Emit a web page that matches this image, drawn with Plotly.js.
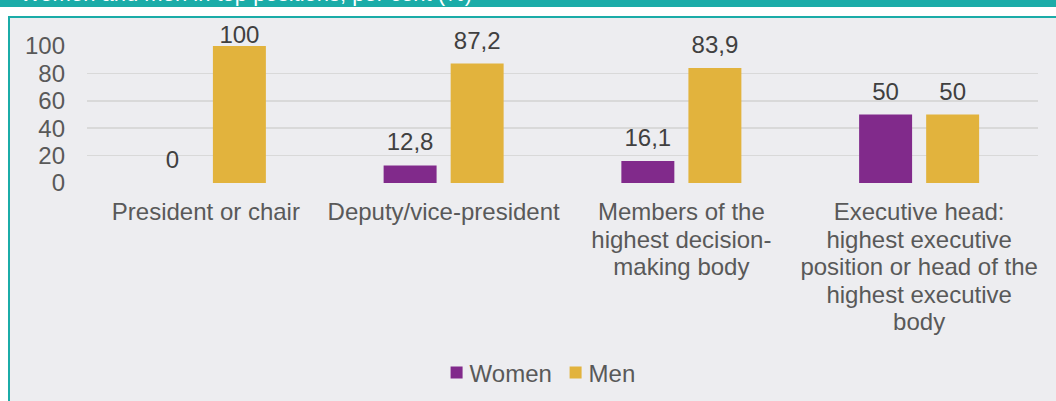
<!DOCTYPE html>
<html>
<head>
<meta charset="utf-8">
<script src="https://cdn.plot.ly/plotly-3.0.1.min.js"></script>
<style>
  html, body { margin: 0; padding: 0; background: #ffffff; }
  #wrap { position: relative; width: 1056px; height: 401px; overflow: hidden; background: #ffffff; }
  #band { position: absolute; left: 0; top: 0; width: 1056px; height: 7px; background: #1BACA8; overflow: hidden; }
  #band span { position: absolute; left: 20px; top: -17px; font-family: 'Liberation Sans', Arial, sans-serif; font-size: 22px; line-height: 21px; color: #ffffff; white-space: nowrap; }
  #frame { position: absolute; left: 8px; top: 16px; width: 1048px; height: 385px; background: #EDEDF0; border-top: 2px solid #1BACA8; border-left: 2px solid #1BACA8; box-sizing: border-box; }
  #chart { position: absolute; left: 0; top: 0; width: 1056px; height: 401px; }
</style>
</head>
<body>
<div id="wrap">
  <div id="band"><span>Women and men in top positions, per cent (%)</span></div>
  <div id="frame"></div>
  <div id="chart"></div>
</div>
<script>
const categories = [
  "President or chair",
  "Deputy/vice-president",
  "Members of the<br>highest decision-<br>making body",
  "Executive head:<br>highest executive<br>position or head of the<br>highest executive<br>body"
];
const seriesNames = ["Women", "Men"];
const women = [0, 12.8, 16.1, 50];
const men = [100, 87.2, 83.9, 50];
const yTicks = [0, 20, 40, 60, 80, 100];

const colors = ["#812A8B", "#E2B33D"];
const font = "'Liberation Sans', Arial, sans-serif";
const FS = 24;

function barTrace(name, vals, color) {
  return {
    type: "bar",
    name: name,
    x: categories,
    y: vals,
    marker: { color: color },
    texttemplate: "%{y}",
    textposition: "outside",
    cliponaxis: false,
    textfont: { family: font, size: FS, color: "#404040" },
    hoverinfo: "x+y+name"
  };
}

const data = [
  barTrace(seriesNames[0], women, colors[0]),
  barTrace(seriesNames[1], men, colors[1])
];

const layout = {
  width: 1056,
  height: 401,
  margin: { l: 87, r: 18, t: 46, b: 218 },
  paper_bgcolor: "rgba(0,0,0,0)",
  plot_bgcolor: "rgba(0,0,0,0)",
  separators: ",.",
  barmode: "group",
  bargap: 0.436,
  bargroupgap: 0.21,
  font: { family: font, size: FS, color: "#595959" },
  showlegend: true,
  legend: {
    orientation: "h",
    xref: "container",
    yref: "container",
    x: 0.5195,
    xanchor: "center",
    y: 0.07,
    yanchor: "middle",
    font: { family: font, size: FS, color: "#595959" },
    itemwidth: 30,
    entrywidth: 74,
    bgcolor: "rgba(0,0,0,0)"
  },
  xaxis: {
    type: "category",
    showgrid: false,
    zeroline: false,
    showline: false,
    ticks: "",
    ticklabelstandoff: 12,
    tickfont: { family: font, size: FS, color: "#595959" },
    tickangle: 0
  },
  yaxis: {
    range: [0, 100],
    tickvals: yTicks,
    ticktext: yTicks.map(String),
    showgrid: true,
    gridcolor: "#D9D9D9",
    gridwidth: 1.5,
    zeroline: false,
    showline: false,
    ticks: "",
    ticklabelstandoff: 21,
    tickfont: { family: font, size: FS, color: "#595959" }
  }
};

Plotly.newPlot("chart", data, layout, { displayModeBar: false, staticPlot: true }).then(function (gd) {
  // Office-like 1.15em line spacing for multi-line category labels
  gd.querySelectorAll(".xtick text tspan.line").forEach(function (t) {
    const dy = parseFloat(t.getAttribute("dy"));
    if (!isNaN(dy) && dy > 0) {
      const n = Math.round(dy / 1.3);
      t.setAttribute("dy", (n * 1.15) + "em");
    }
  });
  // lift value labels a little, but keep them inside the frame's top band
  const top = gd._fullLayout._size.t;
  gd.querySelectorAll(".bars .bartext").forEach(function (t) {
    const bb = t.getBBox();
    const ctm = t.getCTM();
    const cy = (bb.y + bb.height / 2) * ctm.d + ctm.f;
    let shift = -7;
    const minCenter = top - 12;
    if (cy + shift < minCenter) shift = minCenter - cy;
    const tr = t.getAttribute("transform") || "";
    t.setAttribute("transform", "translate(0," + shift + ") " + tr);
  });
  // bring legend squares closer to their text
  gd.querySelectorAll(".legend .legendpoints").forEach(function (p) {
    const tr = p.getAttribute("transform") || "";
    p.setAttribute("transform", "translate(7,0) " + tr);
  });
});
</script>
</body>
</html>
